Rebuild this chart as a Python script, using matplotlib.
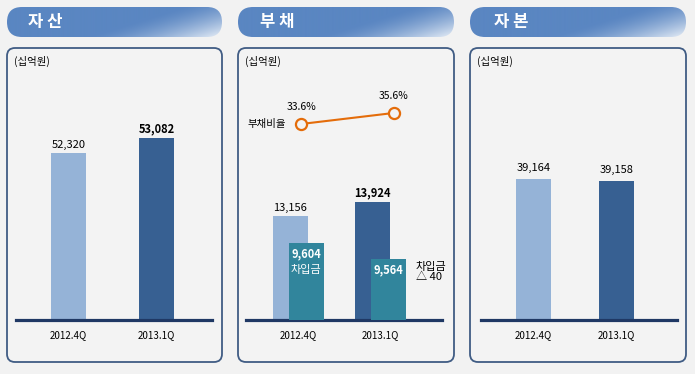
import numpy as np
import matplotlib
matplotlib.use('Agg')
import matplotlib.pyplot as plt
from matplotlib.patches import FancyBboxPatch

plt.rcParams['font.family'] = ['Noto Sans CJK KR', 'DejaVu Sans']

W, H = 695, 374

# 데이터
quarters = ['2012.4Q', '2013.1Q']
assets = [52320, 53082]
debt = [13156, 13924]
borrowings = [9604, 9564]
debt_ratio = [33.6, 35.6]
equity = [39164, 39158]
titles = ['자 산', '부 채', '자 본']
unit = '(십억원)'

LIGHT = '#95B3D7'
DARK = '#376092'
TEAL = '#31859C'
NAVY = '#1F3864'
ORANGE = '#E46C0A'
BG = '#F2F2F2'

fig = plt.figure(figsize=(W / 100, H / 100), dpi=100, facecolor=BG)
bg = fig.add_axes([0, 0, 1, 1])
bg.axis('off')

panels = [(7, 222), (238, 454), (470, 686)]
title_x = [28, 260, 494]

# 헤더 그라데이션
gw, gh = 200, 30
gx = np.linspace(0, 1, gw)[None, :]
gy = np.linspace(0, 1, gh)[:, None]
u = np.clip((gx * 0.8 + gy * 0.35 - 0.65) / 0.5, 0, 1) ** 1.5
c0 = np.array([0x5A, 0x86, 0xC2]) / 255
c1 = np.array([0xE4, 0xEC, 0xF6]) / 255
grad = c0[None, None, :] * (1 - u[..., None]) + c1[None, None, :] * u[..., None]

for (x0, x1), tx, t in zip(panels, title_x, titles):
    pill = FancyBboxPatch((x0, 7), x1 - x0, 30, boxstyle='round,pad=0,rounding_size=15',
                          fc='none', ec='none')
    bg.add_patch(pill)
    im = bg.imshow(grad, extent=(x0, x1, 37, 7), aspect='auto', zorder=1)
    im.set_clip_path(pill)
    bg.text(tx, 22, t, color='white', fontsize=12, fontweight='bold', va='center', ha='left', zorder=3)
    box = FancyBboxPatch((x0, 48), x1 - x0, 314, boxstyle='round,pad=0,rounding_size=8',
                         fc='#F3F3F3', ec='#405C84', lw=1.3, zorder=1)
    bg.add_patch(box)
    bg.text(x0 + 7, 61, unit, fontsize=7.5, va='center', ha='left', zorder=3)

bg.set_xlim(0, W)
bg.set_ylim(H, 0)


def make_axes(left, right, c0, c1, ylim):
    ax = fig.add_axes([left / W, 1 - 320 / H, (right - left) / W, 270 / H])
    s = c1 - c0
    ax.set_xlim(-(c0 - left) / s, 1 + (right - c1) / s)
    ax.set_ylim(*ylim)
    ax.patch.set_visible(False)
    for k, sp in ax.spines.items():
        sp.set_visible(k == 'bottom')
    ax.spines['bottom'].set_color(NAVY)
    ax.spines['bottom'].set_linewidth(2.3)
    ax.tick_params(length=0, labelsize=7, pad=7)
    ax.set_yticks([])
    ax.set_xticks([0, 1], quarters)
    return ax, s


x = np.arange(2)

# 자산
ax1, s1 = make_axes(16, 212, 68.5, 156.5, (43836, 57552))
ax1.bar(x, assets, width=35 / s1, color=[LIGHT, DARK])
for i, v in enumerate(assets):
    ax1.annotate(f'{v:,}', (x[i], v), xytext=(0, 2), textcoords='offset points',
                 ha='center', va='bottom', fontsize=8, fontweight='bold' if i == 1 else 'normal')

# 부채
ax2, s2 = make_axes(246, 442, 298, 380.5, (7451, 22262))
off = 8 / s2
ax2.bar(x - off, debt, width=35 / s2, color=[LIGHT, DARK])
for i, v in enumerate(debt):
    ax2.annotate(f'{v:,}', (x[i] - off, v), xytext=(0, 2), textcoords='offset points',
                 ha='center', va='bottom', fontsize=8, fontweight='bold' if i == 1 else 'normal')

ax2b = ax2.twinx()
ax2b.set_ylim(9411.5, 10086.5)
ax2b.axis('off')
ax2b.bar(x + off, borrowings, width=35 / s2, color=TEAL)
for i, v in enumerate(borrowings):
    ax2b.annotate(f'{v:,}', (x[i] + off, v), xytext=(0, -7.5), textcoords='offset points',
                  ha='center', va='center', fontsize=8, fontweight='bold', color='white')
ax2b.annotate('차입금', (x[0] + off, borrowings[0]), xytext=(0, -19.5), textcoords='offset points',
              ha='center', va='center', fontsize=8, color='white')
ax2b.annotate('차입금\n△ 40', (x[1] + off + 17.5 / s2, borrowings[1]), xytext=(7, -9.5),
              textcoords='offset points', ha='left', va='center', fontsize=8, linespacing=1.05)

ax2c = ax2.twinx()
ax2c.set_ylim(-2.04, 47.05)
ax2c.axis('off')
lx = x + np.array([0.04, 0.16])
ax2c.plot(lx, debt_ratio, color=ORANGE, lw=1.5, marker='o', ms=8, mfc='#F3F3F3', mec=ORANGE, mew=1.6)
for i, v in enumerate(debt_ratio):
    ax2c.annotate(f'{v}%', (lx[i], v), xytext=(0, 12), textcoords='offset points',
                  ha='center', va='center', fontsize=7.5)
ax2c.annotate('부채비율', (lx[0], debt_ratio[0]), xytext=(-11, 0), textcoords='offset points',
              ha='right', va='center', fontsize=7.5)

# 자본
ax3, s3 = make_axes(481, 677, 533.5, 616.5, (38741, 39551))
ax3.bar(x, equity, width=35 / s3, color=[LIGHT, DARK])
for i, v in enumerate(equity):
    ax3.annotate(f'{v:,}', (x[i], v), xytext=(0, 4), textcoords='offset points',
                 ha='center', va='bottom', fontsize=8)

fig.savefig('out.png', dpi=100, facecolor=BG)
